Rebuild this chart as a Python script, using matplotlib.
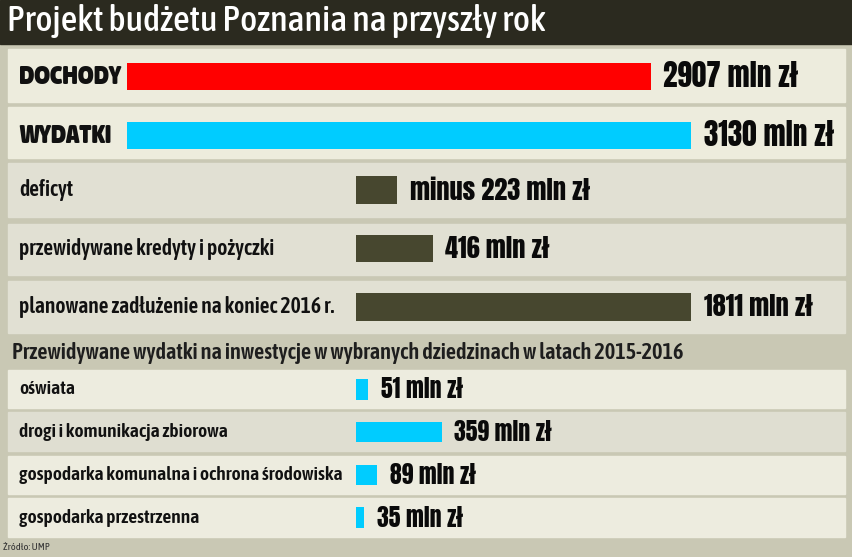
import matplotlib
matplotlib.use('Agg')
import matplotlib.pyplot as plt
from matplotlib.patches import Rectangle
from matplotlib.transforms import blended_transform_factory

# Dane
glowne_kategorie = ['DOCHODY', 'WYDATKI']
glowne_wartosci = [2907, 3130]
glowne_kolory = ['#ff0000', '#00ccff']

dlug_kategorie = ['deficyt', 'przewidywane kredyty i pożyczki',
                  'planowane zadłużenie na koniec 2016 r.']
dlug_wartosci = [223, 416, 1811]
dlug_prefiksy = ['minus ', '', '']

inw_kategorie = ['oświata', 'drogi i komunikacja zbiorowa',
                 'gospodarka komunalna i ochrona środowiska',
                 'gospodarka przestrzenna']
inw_wartosci = [51, 359, 89, 35]

tytul = 'Projekt budżetu Poznania na przyszły rok'
podtytul = 'Przewidywane wydatki na inwestycje w wybranych dziedzinach w latach 2015-2016'
zrodlo = 'Źródło: UMP'

W, H = 852, 557
# czcionki waskie (z zapasowymi)
GRUBA = ['Anton', 'Oswald', 'Liberation Sans Narrow', 'DejaVu Sans']
WASKA = ['Asap Condensed', 'Archivo Narrow', 'Liberation Sans Narrow', 'DejaVu Sans']
TLO = '#c9c8b4'
CIEMNY = '#2b2a1f'
OLIWKA = '#47472f'

fig = plt.figure(figsize=(W / 100, H / 100), dpi=100, facecolor=TLO)

# tlo i panele (w pikselach)
bg = fig.add_axes([0, 0, 1, 1])
bg.set_xlim(0, W)
bg.set_ylim(H, 0)
bg.axis('off')
bg.add_patch(Rectangle((0, 0), W, 44, color=CIEMNY))
bg.text(7, 21, tytul, color='white', fontsize=26, family=WASKA,
        fontweight=500, va='center', ha='left')

panele = [
    (49, 102, '#edecdd'), (107, 158, '#edecdd'),
    (163, 217, '#e1e0d3'), (224, 275, '#e1e0d3'), (281, 333, '#e1e0d3'),
    (370, 408, '#edecdf'), (412, 451, '#dfded1'),
    (456, 494, '#edecdf'), (498, 537, '#edecdf'),
]
for y0, y1, kolor in panele:
    bg.add_patch(Rectangle((8, y0), 837, y1 - y0, color=kolor))

bg.text(12, 353, podtytul, color='#1e1e1e', fontsize=16, family=WASKA,
        fontweight=600, va='center', ha='left')
bg.text(3, 548, zrodlo, color='#333333', fontsize=7.5, family=WASKA,
        va='center', ha='left')


def px_axes(left, top, width, height):
    return fig.add_axes([left / W, 1 - (top + height) / H, width / W, height / H])


def rysuj(ax, kategorie, wartosci, kolory, etykiety, max_x, wys,
          fs_kat, fs_wart, waga_kat):
    n = len(kategorie)
    ax.barh(range(n), wartosci, height=wys, color=kolory, left=0)
    ax.set_xlim(0, max_x)
    ax.set_ylim(n - 0.5, -0.5)
    ax.axis('off')
    ax.patch.set_alpha(0)
    tr = blended_transform_factory(bg.transData, ax.transData)
    for i, (kat, val, et) in enumerate(zip(kategorie, wartosci, etykiety)):
        ax.text(19, i, kat, transform=tr, fontsize=fs_kat, family=WASKA,
                fontweight=waga_kat, color='#111111', va='center', ha='left')
        ax.annotate(et, xy=(val, i), xytext=(9, 0), textcoords='offset points',
                    fontsize=fs_wart, family=GRUBA,
                    color='#0a0a0a', va='center', ha='left')


# DOCHODY / WYDATKI
ax1 = px_axes(127, 47, 564, 118)
rysuj(ax1, glowne_kategorie, glowne_wartosci, glowne_kolory,
      [f'{v} mln zł' for v in glowne_wartosci], 3130, 0.46, 19.5, 21, 900)

# deficyt, kredyty, zadluzenie
ax2 = px_axes(356, 161, 335, 175)
rysuj(ax2, dlug_kategorie, dlug_wartosci, OLIWKA,
      [f'{p}{v} mln zł' for p, v in zip(dlug_prefiksy, dlug_wartosci)],
      1811, 0.47, 15.5, 19, 600)

# inwestycje
ax3 = px_axes(356, 368, 86, 171)
rysuj(ax3, inw_kategorie, inw_wartosci, '#00ccff',
      [f'{v} mln zł' for v in inw_wartosci], 359, 0.48, 14, 17, 600)

fig.savefig('out.png', dpi=100, facecolor=TLO)
